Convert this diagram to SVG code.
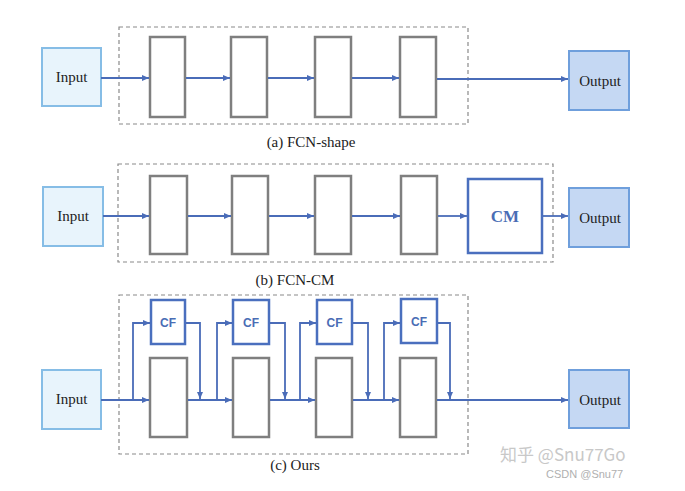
<svg xmlns="http://www.w3.org/2000/svg" width="685" height="491" viewBox="0 0 685 491">
<defs>
<style>
.dash{fill:none;stroke:#8a8a8a;stroke-width:1.2;stroke-dasharray:4 3}
.blk{fill:#fff;stroke:#7f7f7f;stroke-width:2.5}
.inp{fill:#e8f4fc;stroke:#86bde6;stroke-width:2}
.out{fill:#c5d8f3;stroke:#6f9fdc;stroke-width:2}
.cf{fill:#fff;stroke:#4a6fbe;stroke-width:2.5}
.ln{fill:none;stroke:#4a6cb8;stroke-width:1.8}
.lbl{font-family:"Liberation Serif",serif;font-size:15px;fill:#222;text-anchor:middle}
.cap{font-family:"Liberation Serif",serif;font-size:15px;fill:#222;text-anchor:middle}
.cft{font-family:"Liberation Sans",sans-serif;font-size:12px;font-weight:bold;fill:#4a6db5;text-anchor:middle}
</style>
<marker id="ah" markerWidth="8" markerHeight="8" refX="7" refY="4" orient="auto" markerUnits="userSpaceOnUse">
<path d="M0,1 L7,4 L0,7 Z" fill="#4a6cb8"/>
</marker>
</defs>

<!-- Panel (a) -->
<g id="a-frame"><rect class="dash" x="119" y="27" width="349" height="97"/></g>
<g id="a-input"><rect class="inp" x="42" y="48" width="59" height="58"/><text class="lbl" x="71.5" y="82">Input</text></g>
<g id="a-b1"><rect class="blk" x="150" y="37" width="35" height="80"/></g>
<g id="a-b2"><rect class="blk" x="231" y="37" width="36" height="80"/></g>
<g id="a-b3"><rect class="blk" x="315" y="37" width="36" height="80"/></g>
<g id="a-b4"><rect class="blk" x="400" y="37" width="36" height="80"/></g>
<g id="a-output"><rect class="out" x="569" y="51" width="60" height="59"/><text class="lbl" x="600" y="86">Output</text></g>
<g id="a-caption"><text class="cap" x="311" y="147">(a) FCN-shape</text></g>

<!-- Panel (b) -->
<g id="b-frame"><rect class="dash" x="118" y="164" width="435" height="98"/></g>
<g id="b-input"><rect class="inp" x="43" y="187" width="60" height="59"/><text class="lbl" x="73" y="221">Input</text></g>
<g id="b-b1"><rect class="blk" x="150" y="176" width="37" height="78"/></g>
<g id="b-b2"><rect class="blk" x="232" y="176" width="36" height="78"/></g>
<g id="b-b3"><rect class="blk" x="315" y="176" width="36" height="78"/></g>
<g id="b-b4"><rect class="blk" x="401" y="176" width="36" height="78"/></g>
<g id="b-cm"><rect class="cf" x="468" y="179" width="74" height="74"/><text x="505" y="222" text-anchor="middle" font-family="Liberation Serif, serif" font-size="17" font-weight="bold" fill="#4a6db5">CM</text></g>
<g id="b-output"><rect class="out" x="569" y="188" width="60" height="59"/><text class="lbl" x="600" y="223">Output</text></g>
<g id="b-caption"><text class="cap" x="295" y="285">(b) FCN-CM</text></g>

<!-- Panel (c) -->
<g id="c-frame"><rect class="dash" x="119" y="295" width="349" height="159"/></g>
<g id="c-input"><rect class="inp" x="42" y="370" width="59" height="59"/><text class="lbl" x="71.5" y="404">Input</text></g>
<g id="c-cf1"><rect class="cf" x="151" y="300" width="34" height="44"/><text class="cft" x="168" y="327">CF</text></g>
<g id="c-cf2"><rect class="cf" x="233" y="300" width="36" height="44"/><text class="cft" x="251" y="327">CF</text></g>
<g id="c-cf3"><rect class="cf" x="317" y="300" width="35" height="44"/><text class="cft" x="334.5" y="327">CF</text></g>
<g id="c-cf4"><rect class="cf" x="401" y="299" width="36" height="44"/><text class="cft" x="419" y="326">CF</text></g>
<g id="c-b1"><rect class="blk" x="150" y="358" width="37" height="79"/></g>
<g id="c-b2"><rect class="blk" x="233" y="358" width="36" height="79"/></g>
<g id="c-b3"><rect class="blk" x="316" y="358" width="36" height="79"/></g>
<g id="c-b4"><rect class="blk" x="400" y="358" width="36" height="79"/></g>
<g id="c-output"><rect class="out" x="569" y="370" width="60" height="58"/><text class="lbl" x="600" y="405">Output</text></g>
<g id="c-caption"><text class="cap" x="295" y="470">(c) Ours</text></g>

<!-- Connectors -->
<g id="connectors">
<!-- (a) -->
<line class="ln" x1="101" y1="78" x2="149" y2="78" marker-end="url(#ah)"/>
<line class="ln" x1="186" y1="78" x2="230" y2="78" marker-end="url(#ah)"/>
<line class="ln" x1="268" y1="78" x2="314" y2="78" marker-end="url(#ah)"/>
<line class="ln" x1="352" y1="78" x2="399" y2="78" marker-end="url(#ah)"/>
<line class="ln" x1="437" y1="79" x2="568" y2="79" marker-end="url(#ah)"/>
<!-- (b) -->
<line class="ln" x1="103" y1="216" x2="149" y2="216" marker-end="url(#ah)"/>
<line class="ln" x1="188" y1="216" x2="231" y2="216" marker-end="url(#ah)"/>
<line class="ln" x1="269" y1="216" x2="314" y2="216" marker-end="url(#ah)"/>
<line class="ln" x1="352" y1="216" x2="400" y2="216" marker-end="url(#ah)"/>
<line class="ln" x1="438" y1="216" x2="467" y2="216" marker-end="url(#ah)"/>
<line class="ln" x1="543" y1="216" x2="568" y2="216" marker-end="url(#ah)"/>
<!-- (c) main line -->
<line class="ln" x1="101" y1="400" x2="149" y2="400" marker-end="url(#ah)"/>
<line class="ln" x1="188" y1="400" x2="232" y2="400" marker-end="url(#ah)"/>
<line class="ln" x1="270" y1="400" x2="315" y2="400" marker-end="url(#ah)"/>
<line class="ln" x1="353" y1="400" x2="399" y2="400" marker-end="url(#ah)"/>
<line class="ln" x1="437" y1="400" x2="568" y2="400" marker-end="url(#ah)"/>
<!-- (c) branches into CF -->
<polyline class="ln" points="133,400 133,323 150,323" marker-end="url(#ah)"/>
<polyline class="ln" points="217,400 217,323 232,323" marker-end="url(#ah)"/>
<polyline class="ln" points="300,400 300,323 316,323" marker-end="url(#ah)"/>
<polyline class="ln" points="384,400 384,323 400,323" marker-end="url(#ah)"/>
<!-- (c) CF outputs back to main line -->
<polyline class="ln" points="186,323 200,323 200,399" marker-end="url(#ah)"/>
<polyline class="ln" points="270,323 285,323 285,399" marker-end="url(#ah)"/>
<polyline class="ln" points="353,323 368,323 368,399" marker-end="url(#ah)"/>
<polyline class="ln" points="438,323 450,323 450,399" marker-end="url(#ah)"/>
</g>

<!-- Watermarks -->
<g id="watermark">
<text x="500" y="461" font-family="Noto Sans CJK SC, Noto Sans, sans-serif" font-size="17" fill="#c8c8c8">知乎 @Snu77Go</text>
<text x="546" y="478" font-family="Liberation Sans, sans-serif" font-size="11" fill="#b0b0b0">CSDN @Snu77</text>
</g>
</svg>
